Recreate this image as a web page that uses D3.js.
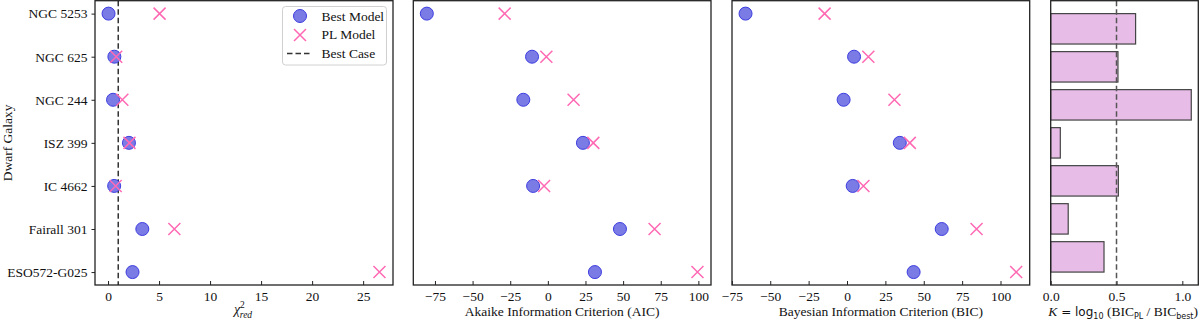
<!DOCTYPE html>
<html>
<head>
<meta charset="utf-8">
<script src="https://cdn.jsdelivr.net/npm/d3@7"></script>
<style>
  body { margin: 0; background: #fff; }
  svg text { font-family: "Liberation Serif", "DejaVu Serif", serif; fill: #111; }
</style>
</head>
<body>
<div id="chart"></div>
<script>
// Data
var galaxies = ["NGC 5253", "NGC 625", "NGC 244", "ISZ 399", "IC 4662", "Fairall 301", "ESO572-G025"];
var chiBest = [0.05, 0.62, 0.49, 2.05, 0.6, 3.36, 2.4];
var chiPL = [5.05, 0.8, 1.4, 2.1, 0.75, 6.5, 26.6];
var aicBest = [-80.4, -10.5, -16.3, 23.3, -9.8, 47.9, 31.3];
var aicPL = [-28.7, -1.0, 17.1, 30.2, -2.5, 70.9, 99.4];
var bicBest = [-66.1, 4.6, -2.2, 34.4, 3.7, 61.7, 43.4];
var bicPL = [-14.6, 13.9, 30.9, 40.9, 10.7, 84.4, 110.2];
var kVals = [0.645, 0.511, 1.068, 0.073, 0.514, 0.133, 0.405];
var chiTicks = [0, 5, 10, 15, 20, 25];
var icTicks = [-75, -50, -25, 0, 25, 50, 75, 100];
var kTicks = [0, 0.5, 1.0];

var W = 1200, H = 322;
var yTop = 0.7, yBot = 285;

var svg = d3.select("#chart").append("svg")
    .attr("width", W)
    .attr("height", H);

// matplotlib-like 5% margins
function padded(vals) {
    var lo = d3.min(vals), hi = d3.max(vals), m = (hi - lo) * 0.05;
    return [lo - m, hi + m];
}

var yScatter = d3.scaleLinear().domain([-0.3, 6.3]).range([yTop, yBot]);
var yBar = d3.scaleLinear().domain([-0.74, 6.74]).range([yTop, yBot]);

var blueFill = "#7b7be6", blueEdge = "#3d3de0", pink = "#ff69b4";

function panel(x0, x1, domain, ticks, fmt, label) {
    var x = d3.scaleLinear().domain(domain).range([x0, x1]);
    var g = svg.append("g");

    var ax = g.append("g")
        .attr("transform", "translate(0," + yBot + ")")
        .call(d3.axisBottom(x).tickValues(ticks).tickSizeInner(-4).tickSizeOuter(0).tickPadding(6).tickFormat(fmt));
    ax.select(".domain").remove();
    ax.selectAll("line").attr("stroke", "#222");
    ax.selectAll("text").style("font-size", "13.5px").style("font-family", "Liberation Serif");

    if (label) {
        g.append("text")
            .attr("x", (x0 + x1) / 2)
            .attr("y", 316)
            .attr("text-anchor", "middle")
            .style("font-size", "13.5px")
            .text(label);
    }
    return { g: g, x: x, x0: x0, x1: x1 };
}

function frame(p) {
    p.g.append("rect")
        .attr("x", p.x0).attr("y", yTop)
        .attr("width", p.x1 - p.x0).attr("height", yBot - yTop)
        .attr("fill", "none").attr("stroke", "#222").attr("stroke-width", 1.3);
}

function scatter(p, best, pl) {
    p.g.selectAll(".best").data(best).enter().append("circle")
        .attr("cx", function (d) { return p.x(d); })
        .attr("cy", function (d, i) { return yScatter(i); })
        .attr("r", 6.5)
        .attr("fill", blueFill)
        .attr("stroke", blueEdge)
        .attr("stroke-width", 1);
    var s = 6;
    p.g.selectAll(".pl").data(pl).enter().append("path")
        .attr("d", function (d, i) {
            var cx = p.x(d), cy = yScatter(i);
            return "M" + (cx - s) + "," + (cy - s) + "L" + (cx + s) + "," + (cy + s) +
                "M" + (cx - s) + "," + (cy + s) + "L" + (cx + s) + "," + (cy - s);
        })
        .attr("stroke", pink)
        .attr("stroke-width", 1.5)
        .attr("fill", "none");
}

var fmtInt = d3.format("d");

// Panel 1: reduced chi-square
var p1 = panel(95, 393, padded(chiBest.concat(chiPL)), chiTicks, fmtInt, null);
p1.g.append("line")
    .attr("x1", p1.x(1)).attr("x2", p1.x(1))
    .attr("y1", yTop).attr("y2", yBot)
    .attr("stroke", "#333").attr("stroke-width", 1.5).attr("stroke-dasharray", "5.5,3");
scatter(p1, chiBest, chiPL);
frame(p1);

var ay = p1.g.append("g")
    .attr("transform", "translate(95,0)")
    .call(d3.axisLeft(yScatter).tickValues(d3.range(galaxies.length)).tickSizeOuter(0).tickSize(3.5).tickPadding(4)
        .tickFormat(function (i) { return galaxies[i]; }));
ay.select(".domain").remove();
ay.selectAll("line").attr("stroke", "#222");
ay.selectAll("text").style("font-size", "13.5px").style("font-family", "Liberation Serif");

svg.append("text")
    .attr("transform", "translate(12," + ((yTop + yBot) / 2) + ") rotate(-90)")
    .attr("text-anchor", "middle")
    .style("font-size", "13.5px")
    .text("Dwarf Galaxy");

var chiLab = svg.append("text")
    .attr("x", 243).attr("y", 314)
    .attr("text-anchor", "middle")
    .style("font-size", "14px")
    .style("font-style", "italic");
chiLab.append("tspan").text("χ");
chiLab.append("tspan").attr("dy", -6).style("font-size", "9.5px").style("font-style", "normal").text("2");
chiLab.append("tspan").attr("dx", -5).attr("dy", 10).style("font-size", "9.5px").text("red");

// Legend
var lg = svg.append("g");
lg.append("rect")
    .attr("x", 282.5).attr("y", 6.5).attr("width", 104).attr("height", 58.5)
    .attr("rx", 3).attr("fill", "#fff").attr("fill-opacity", 0.85)
    .attr("stroke", "#d0d0d0").attr("stroke-width", 1);
lg.append("circle").attr("cx", 300).attr("cy", 16).attr("r", 6.5)
    .attr("fill", blueFill).attr("stroke", blueEdge);
lg.append("path").attr("d", "M294,29L306,41M294,41L306,29")
    .attr("stroke", pink).attr("stroke-width", 1.5);
lg.append("line").attr("x1", 287).attr("x2", 312).attr("y1", 53.5).attr("y2", 53.5)
    .attr("stroke", "#333").attr("stroke-width", 1.5).attr("stroke-dasharray", "5.5,3");
var legendLabels = ["Best Model", "PL Model", "Best Case"];
lg.selectAll(".lt").data(legendLabels).enter().append("text")
    .attr("x", 321.5)
    .attr("y", function (d, i) { return 20.5 + i * 18.6; })
    .style("font-size", "13.5px")
    .text(function (d) { return d; });

// Panel 2: AIC
var p2 = panel(413.3, 711, padded(aicBest.concat(aicPL)), icTicks, fmtInt, "Akaike Information Criterion (AIC)");
scatter(p2, aicBest, aicPL);
frame(p2);

// Panel 3: BIC
var p3 = panel(732, 1029.7, padded(bicBest.concat(bicPL)), icTicks, fmtInt, "Bayesian Information Criterion (BIC)");
scatter(p3, bicBest, bicPL);
frame(p3);

// Panel 4: K bars
var p4 = panel(1050.7, 1198.3, [0, d3.max(kVals) * 1.05], kTicks, d3.format(".1f"), null);
p4.g.selectAll(".bar").data(kVals).enter().append("rect")
    .attr("x", p4.x(0))
    .attr("y", function (d, i) { return yBar(i - 0.4); })
    .attr("width", function (d) { return p4.x(d) - p4.x(0); })
    .attr("height", yBar(0.8) - yBar(0))
    .attr("fill", "#e7bce7")
    .attr("stroke", "#444")
    .attr("stroke-width", 1.2);
p4.g.append("line")
    .attr("x1", p4.x(0.5)).attr("x2", p4.x(0.5))
    .attr("y1", yTop).attr("y2", yBot)
    .attr("stroke", "#555").attr("stroke-width", 1.5).attr("stroke-dasharray", "5.5,3");
frame(p4);

var kLab = svg.append("text")
    .attr("x", 1198).attr("y", 316)
    .attr("text-anchor", "end")
    .style("font-size", "13.5px");
kLab.append("tspan").style("font-style", "italic").text("K");
kLab.append("tspan").style("font-family", "DejaVu Sans").style("font-size", "12px").text(" = log");
kLab.append("tspan").attr("dy", 3).style("font-family", "DejaVu Sans").style("font-size", "8px").text("10");
kLab.append("tspan").attr("dy", -3).text(" (BIC");
kLab.append("tspan").attr("dy", 3).style("font-family", "DejaVu Sans").style("font-size", "8px").text("PL");
kLab.append("tspan").attr("dy", -3).text(" / BIC");
kLab.append("tspan").attr("dy", 3).style("font-family", "DejaVu Sans").style("font-size", "8px").text("best");
kLab.append("tspan").attr("dy", -3).text(")");
</script>
</body>
</html>
